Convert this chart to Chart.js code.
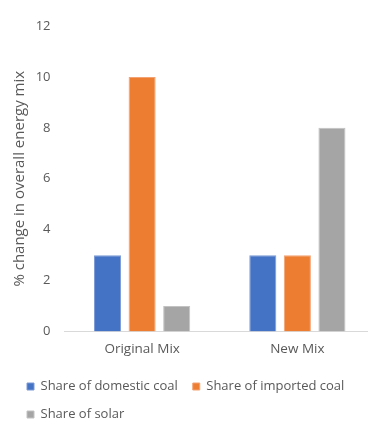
<!DOCTYPE html>
<html>
<head>
<meta charset="utf-8">
<script src="https://cdn.jsdelivr.net/npm/chart.js@4/dist/chart.umd.min.js"></script>
<style>
  html, body { margin: 0; padding: 0; background: #fff; overflow: hidden; }
  #wrap { position: relative; width: 375px; height: 431px; }
</style>
</head>
<body>
<div id="wrap"><canvas id="c" width="375" height="431"></canvas></div>
<script>
const categories = ["Original Mix", "New Mix"];
const seriesNames = ["Share of domestic coal", "Share of imported coal", "Share of solar"];
const domesticCoal = [3, 3];
const importedCoal = [10, 3];
const solar = [1, 8];
const yTicks = [0, 2, 4, 6, 8, 10, 12];
const seriesColors = ["#4472C4", "#ED7D31", "#A5A5A5"];
const borderColors = ["#7b9ad6", "#f3a273", "#c2c2c2"];
const yTitle = "% change in overall energy mix";

const font = "'Open Sans', 'Noto Sans', sans-serif";
const textColor = "#595959";

const seriesValues = [domesticCoal, importedCoal, solar];

new Chart(document.getElementById("c"), {
  type: "bar",
  data: {
    labels: categories,
    datasets: seriesNames.map((name, i) => ({
      label: name,
      data: seriesValues[i],
      backgroundColor: seriesColors[i],
      borderColor: borderColors[i],
      borderWidth: 1,
      categoryPercentage: 0.668,
      barPercentage: 0.783
    }))
  },
  options: {
    responsive: false,
    animation: false,
    devicePixelRatio: 1,
    layout: { padding: { left: 12, right: 0, top: 26, bottom: 0 } },
    plugins: {
      legend: {
        position: "bottom",
        align: "start",
        labels: {
          boxWidth: 7,
          boxHeight: 7,
          padding: 15,
          color: textColor,
          font: { family: font, size: 13 }
        }
      },
      tooltip: { enabled: false }
    },
    scales: {
      x: {
        grid: { display: false, drawTicks: false },
        border: { display: true, color: "#D9D9D9", width: 1 },
        ticks: { color: textColor, font: { family: font, size: 13.5 }, padding: 10 },
        afterFit: (scale) => { scale.height = 33.5; }
      },
      y: {
        min: yTicks[0],
        max: yTicks[yTicks.length - 1],
        afterBuildTicks: (scale) => { scale.ticks = yTicks.map(v => ({ value: v })); },
        ticks: { color: textColor, font: { family: font, size: 13 }, padding: 14 },
        grid: { display: false, drawTicks: false },
        border: { display: false },
        title: {
          display: true,
          text: yTitle,
          color: textColor,
          font: { family: font, size: 15 },
          padding: { top: -1.5, bottom: 8 }
        },
        afterFit: (scale) => { scale.width = 52.5; }
      }
    }
  }
});
</script>
</body>
</html>
